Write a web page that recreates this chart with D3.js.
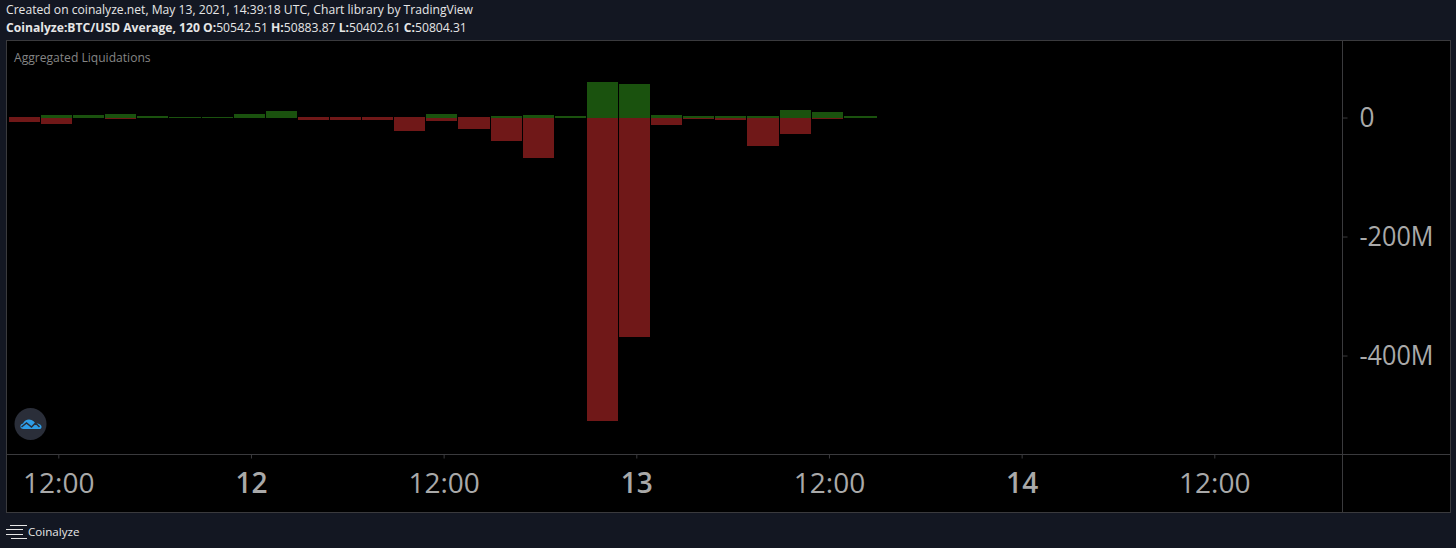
<!DOCTYPE html>
<html>
<head>
<meta charset="utf-8">
<script src="https://cdn.jsdelivr.net/npm/d3@7"></script>
<style>
  html, body { margin: 0; padding: 0; background: #131722; overflow: hidden; }
  svg { display: block; font-family: "Open Sans", sans-serif; }
</style>
</head>
<body>
<svg id="chart"></svg>
<script>
// Aggregated liquidations, 2h bars, values in millions of USD
const barTimes = [
    "2021-05-11T10:00Z", "2021-05-11T12:00Z", "2021-05-11T14:00Z", "2021-05-11T16:00Z", "2021-05-11T18:00Z",
    "2021-05-11T20:00Z", "2021-05-11T22:00Z", "2021-05-12T00:00Z", "2021-05-12T02:00Z", "2021-05-12T04:00Z",
    "2021-05-12T06:00Z", "2021-05-12T08:00Z", "2021-05-12T10:00Z", "2021-05-12T12:00Z", "2021-05-12T14:00Z",
    "2021-05-12T16:00Z", "2021-05-12T18:00Z", "2021-05-12T20:00Z", "2021-05-12T22:00Z", "2021-05-13T00:00Z",
    "2021-05-13T02:00Z", "2021-05-13T04:00Z", "2021-05-13T06:00Z", "2021-05-13T08:00Z", "2021-05-13T10:00Z",
    "2021-05-13T12:00Z", "2021-05-13T14:00Z"
].map(d => new Date(d));
const shortLiq = [0, 4.2, 4, 6, 2.5, 0.8, 0.8, 6, 11, 0, 0, 0, 0, 6, 0, 2.5, 4, 2.5, 59.7, 56.3, 4, 2.5, 2.5, 2.5, 12.6, 9.2, 2.5];
const longLiq = [-7.6, -11, 0, -2.5, 0, 0, 0, 0, 0, -4, -4, -4, -22.7, -6, -19.3, -39.5, -68, 0, -510, -369, -12.6, -2.5, -4, -48, -27.7, -2.5, 0];

const yTicks = [0, -200, -400];
const xTicks = ["2021-05-11T12:00Z", "2021-05-12T00:00Z", "2021-05-12T12:00Z", "2021-05-13T00:00Z",
    "2021-05-13T12:00Z", "2021-05-14T00:00Z", "2021-05-14T12:00Z"].map(d => new Date(d));

const width = 1456;
const height = 548;

const frame = { left: 6.5, top: 40.5, right: 1450.5, bottom: 512.5 };
const plot = { right: 1342.5, bottom: 454.5 };

const green = "#1a520e";
const red = "#701818";
const lineColor = "#3a3a3d";
const axisText = "#a9a9a9";

const svg = d3.select("#chart").attr("width", width).attr("height", height);

const x = d3.scaleUtc()
    .domain([xTicks[0], xTicks[xTicks.length - 1]])
    .range([58.3, 1214.3]);

const y = d3.scaleLinear()
    .domain([-565.5, 128.6])
    .range([454, 41]);

const bars = barTimes.map((d, i) => ({ date: d, index: i, short: shortLiq[i], long: longLiq[i] }));

const barLeft = d => Math.floor(x(d) - 16.8);
const barWidth = d => {
    if (d.index === bars.length - 1) return 33;  // the last bar is drawn a bit wider
    return barLeft(bars[d.index + 1].date) - barLeft(d.date) - 1;
};

// frame
svg.append("rect")
    .attr("x", frame.left).attr("y", frame.top)
    .attr("width", frame.right - frame.left).attr("height", frame.bottom - frame.top)
    .attr("fill", "#000").attr("stroke", lineColor);

// bars: red first, green on top
svg.append("g").attr("shape-rendering", "crispEdges")
    .selectAll("rect")
    .data(bars.filter(d => d.long < 0))
    .enter().append("rect")
    .attr("x", d => barLeft(d.date))
    .attr("width", barWidth)
    .attr("y", Math.floor(y(0)))
    .attr("height", d => Math.round(y(d.long)) - Math.floor(y(0)))
    .attr("fill", red);

svg.append("g").attr("shape-rendering", "crispEdges")
    .selectAll("rect")
    .data(bars.filter(d => d.short > 0))
    .enter().append("rect")
    .attr("x", d => barLeft(d.date))
    .attr("width", barWidth)
    .attr("y", d => Math.round(y(d.short)))
    .attr("height", d => Math.ceil(y(0)) - Math.round(y(d.short)))
    .attr("fill", green);

// axes
const yAxis = svg.append("g")
    .attr("transform", `translate(${plot.right},0)`)
    .call(d3.axisRight(y).tickValues(yTicks).tickSize(5).tickPadding(12)
        .tickFormat(d => d === 0 ? "0" : `${d}M`));
yAxis.select(".domain").remove();
yAxis.selectAll("line").attr("stroke", lineColor);
yAxis.selectAll("text")
    .attr("fill", axisText).attr("font-size", 28).attr("font-family", "Open Sans")
    .attr("lengthAdjust", "spacingAndGlyphs")
    .attr("textLength", d => d === 0 ? 15 : 74);

const xAxis = svg.append("g")
    .attr("transform", `translate(0,${plot.bottom})`)
    .call(d3.axisBottom(x).tickValues(xTicks).tickSize(4).tickPadding(15)
        .tickFormat(d => d.getUTCHours() === 12 ? "12:00" : d3.utcFormat("%d")(d)));
xAxis.select(".domain").remove();
xAxis.selectAll("line").attr("stroke", lineColor);
xAxis.selectAll("text")
    .attr("fill", axisText).attr("font-size", 28).attr("font-family", "Open Sans")
    .attr("font-weight", d => d.getUTCHours() === 12 ? 400 : 600);

// pane separators
svg.append("line").attr("x1", frame.left).attr("x2", frame.right)
    .attr("y1", plot.bottom).attr("y2", plot.bottom).attr("stroke", lineColor);
svg.append("line").attr("x1", plot.right).attr("x2", plot.right)
    .attr("y1", frame.top).attr("y2", frame.bottom).attr("stroke", lineColor);

// header text
svg.append("text").attr("x", 6).attr("y", 14)
    .attr("font-size", 12.13).attr("fill", "#e6e6e6")
    .text("Created on coinalyze.net, May 13, 2021, 14:39:18 UTC, Chart library by TradingView");

const info = svg.append("text").attr("x", 6).attr("y", 32)
    .attr("font-size", 12.13).attr("fill", "#e6e6e6");
info.append("tspan").attr("font-weight", 700).text("Coinalyze:BTC/USD Average, 120 O:");
info.append("tspan").text("50542.51 ");
info.append("tspan").attr("font-weight", 700).text("H:");
info.append("tspan").text("50883.87 ");
info.append("tspan").attr("font-weight", 700).text("L:");
info.append("tspan").text("50402.61 ");
info.append("tspan").attr("font-weight", 700).text("C:");
info.append("tspan").text("50804.31");

svg.append("text").attr("x", 14).attr("y", 62)
    .attr("font-size", 12.1).attr("fill", "#858585")
    .text("Aggregated Liquidations");

// logo
const logo = svg.append("g").attr("transform", "translate(30.5,424)");
logo.append("circle").attr("r", 16).attr("fill", "#2a2e39");
logo.append("path")
    .attr("d", "M-7,5 C-11,5 -11,0 -7.5,-0.5 C-6,-4 -2,-5.5 1,-4 C3,-3 4,-2 5,-0.5 C8,-1 11.5,1 11,3 C11,4.5 10,5 9,5 Z")
    .attr("fill", "#2e9ee8");
logo.append("path")
    .attr("d", "M-9,3 L-4,-1 L1,3 L5,-1 L9,3")
    .attr("fill", "none").attr("stroke", "#2a2e39").attr("stroke-width", 1.5);

// footer
const menuLines = [
    { x1: 10, x2: 27, y: 525.5 },
    { x1: 6, x2: 23, y: 529.5 },
    { x1: 6, x2: 23, y: 534.5 },
    { x1: 11, x2: 27, y: 538.5 }
];
svg.append("g").selectAll("line")
    .data(menuLines)
    .enter().append("line")
    .attr("x1", d => d.x1).attr("x2", d => d.x2)
    .attr("y1", d => d.y).attr("y2", d => d.y)
    .attr("stroke", "#e6e6e6");

svg.append("text").attr("x", 28).attr("y", 536)
    .attr("font-size", 11.6).attr("fill", "#e6e6e6")
    .text("Coinalyze");
</script>
</body>
</html>
